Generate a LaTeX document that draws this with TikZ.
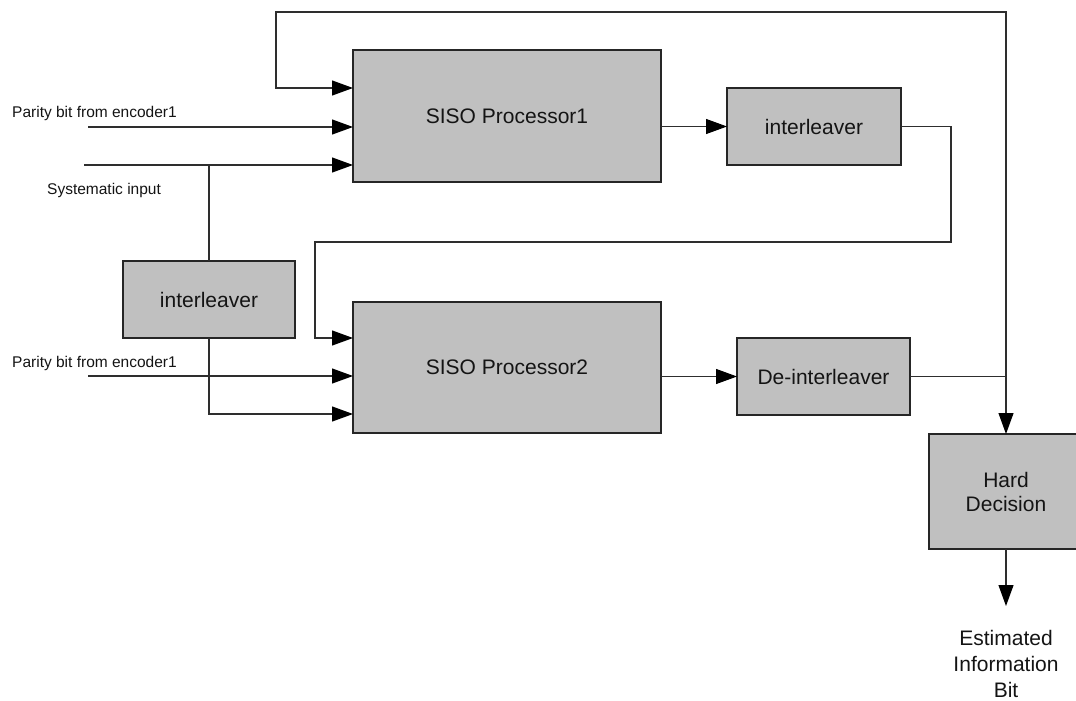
\documentclass[tikz,border=0pt]{standalone}
\usepackage{fontspec}
\setmainfont{Liberation Sans}
\usetikzlibrary{arrows.meta}

\definecolor{boxfill}{HTML}{C0C0C0}
\definecolor{wire}{HTML}{2E2E2E}

\tikzset{
  block/.style={draw=black!85, line width=1.1pt, fill=boxfill, inner sep=0pt, outer sep=0pt,
    align=center, font=\fontsize{21}{25}\selectfont, text=black!92},
  wireline/.style={draw=wire, line width=1.1pt},
  arr/.style={wireline, -{Triangle[length=21pt,width=15pt,color=black]}},
  lbl/.style={font=\fontsize{15.5}{18}\selectfont, text=black!92, inner sep=0pt, anchor=west},
}

\begin{document}
\begin{tikzpicture}[x=1pt, y=-1pt]
  \useasboundingbox (0,0) rectangle (1076,701);
  \clip (0,0) rectangle (1076,701);

  % processing blocks
  \node[block, minimum width=308, minimum height=132] (siso1) at (507,116) {SISO Processor1};
  \node[block, minimum width=308, minimum height=131] (siso2) at (507,367.5) {SISO Processor2};
  \node[block, minimum width=174, minimum height=77] (il1) at (814,126.5) {interleaver};
  \node[block, minimum width=172, minimum height=77] (il2) at (209,299.5) {interleaver};
  \node[block, minimum width=173, minimum height=77] (deil) at (823.5,376.5) {De-interleaver};
  \node[block, minimum width=154, minimum height=115] (hd) at (1006,491.5) {Hard\\[-1pt]Decision};

  % input labels
  \node[lbl] (par1) at (12,113) {Parity bit from encoder1};
  \node[lbl] (sysl) at (47,190) {Systematic input};
  \node[lbl] (par2) at (12,363) {Parity bit from encoder1};
  \node[align=center, font=\fontsize{21}{26}\selectfont, text=black!92, inner sep=0pt]
    (est) at (1006,664) {Estimated\\Information\\Bit};

  % free ends and bends
  \coordinate (p1) at (88,127);
  \coordinate (sys) at (84,165);
  \coordinate (p2) at (88,376);
  \coordinate (fbr) at (1006,12);
  \coordinate (fbl) at (276,12);
  \coordinate (ilr) at (951,242);
  \coordinate (ill) at (315,242);
  \coordinate (eo) at (1006,606);

  % inputs to SISO Processor1
  \draw[arr] (p1) -- ([yshift=-11pt]siso1.west);
  \draw[arr] (sys) -- ([yshift=-49pt]siso1.west);
  \draw[wireline] (il2.north) -- (il2.north |- sys);

  % inputs to SISO Processor2
  \draw[arr] (p2) -- ([yshift=-8.5pt]siso2.west);
  \draw[arr] (il2.south) |- ([yshift=-46.5pt]siso2.west);

  % forward path
  \draw[arr] (siso1.east |- il1.west) -- (il1.west);
  \draw[arr] (siso2.east |- deil.west) -- (deil.west);

  % interleaved extrinsic feedback into SISO Processor2
  \draw[arr] (il1.east) -| (ilr) -- (ill) |- ([yshift=29.5pt]siso2.west);

  % de-interleaved output: to hard decision and back to SISO Processor1
  \draw[arr] (deil.east) -| (hd.north);
  \draw[arr] (hd.north |- deil.east) -- (fbr) -- (fbl) |- ([yshift=28pt]siso1.west);

  % decision output
  \draw[arr] (hd.south) -- (eo);
\end{tikzpicture}
\end{document}
